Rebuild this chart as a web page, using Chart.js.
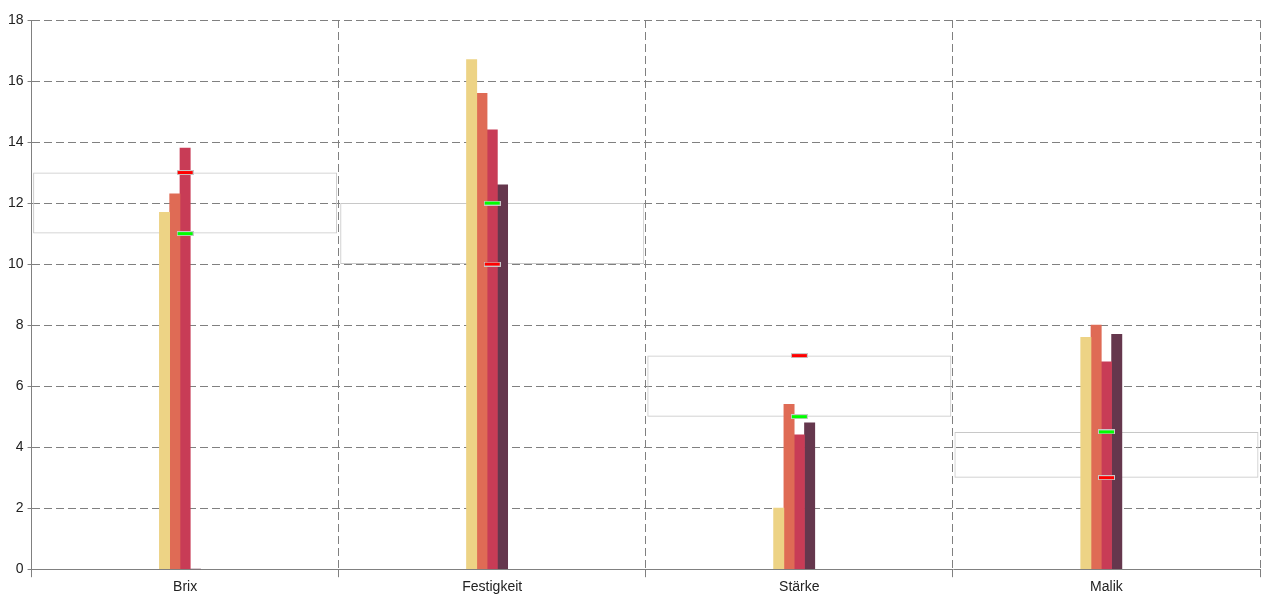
<!DOCTYPE html>
<html>
<head>
<meta charset="utf-8">
<title>Messwerte</title>
<script src="https://cdn.jsdelivr.net/npm/chart.js@4.4.0/dist/chart.umd.min.js"></script>
<style>
    html, body { margin: 0; padding: 0; background: #fff; }
</style>
</head>
<body>
<canvas id="chart" width="1280" height="600"></canvas>
<script>
// categories and measured values
const categories = ['Brix', 'Festigkeit', 'Stärke', 'Malik'];
const serie1 = [11.7, 16.7, 2.0, 7.6];
const serie2 = [12.3, 15.6, 5.4, 8.0];
const serie3 = [13.8, 14.4, 4.4, 6.8];
const serie4 = [0, 12.6, 4.8, 7.7];
const leer = [null, null, null, null];

// target markers (red / green)
const rotMarken = [13, 10, 7, 3];
const gruenMarken = [11, 12, 5, 4.5];

// y axis
const yMin = 0;
const yMax = 18;
const yStep = 2;

// box between the two markers of each category
const bereiche = categories.map((c, i) => [
    Math.min(rotMarken[i], gruenMarken[i]),
    Math.max(rotMarken[i], gruenMarken[i])
]);

function marke(fill) {
    const c = document.createElement('canvas');
    c.width = 17;
    c.height = 5;
    const ctx = c.getContext('2d');
    ctx.fillStyle = '#c8c8c8';
    ctx.fillRect(0, 0, 17, 5);
    ctx.fillStyle = fill;
    ctx.fillRect(1, 1, 15, 3);
    return c;
}

const balken = (label, data, color) => ({
    type: 'bar',
    label: label,
    data: data,
    backgroundColor: color,
    borderWidth: 0,
    barThickness: 10.3,
    order: 2
});

new Chart(document.getElementById('chart').getContext('2d'), {
    type: 'bar',
    data: {
        labels: categories,
        datasets: [
            {
                type: 'bar',
                label: 'Bereich',
                data: bereiche,
                grouped: false,
                categoryPercentage: 1,
                barPercentage: 0.99,
                backgroundColor: 'rgba(0,0,0,0)',
                borderColor: '#c8c8c8',
                borderWidth: 1,
                borderSkipped: false,
                order: 3
            },
            balken('Serie 1', serie1, '#edd385'),
            balken('Serie 2', serie2, '#df6b55'),
            balken('Serie 3', serie3, '#c83c56'),
            balken('Serie 4', serie4, '#65374d'),
            balken('', leer, 'rgba(0,0,0,0)'),
            {
                type: 'line',
                label: 'Max',
                data: rotMarken,
                showLine: false,
                pointStyle: marke('#ff0000'),
                order: 0
            },
            {
                type: 'line',
                label: 'Min',
                data: gruenMarken,
                showLine: false,
                pointStyle: marke('#00ff00'),
                order: 0
            }
        ]
    },
    options: {
        responsive: false,
        animation: false,
        layout: { padding: { left: 4, right: 20, top: 20, bottom: 2 } },
        plugins: {
            legend: { display: false },
            tooltip: { enabled: false }
        },
        scales: {
            x: {
                grid: {
                    color: '#808080',
                    offset: true,
                    tickLength: 8,
                    tickBorderDash: []
                },
                border: { color: '#808080', dash: [8, 4] },
                ticks: {
                    color: '#222',
                    font: { family: 'Liberation Sans', size: 14 },
                    padding: 2
                }
            },
            y: {
                min: yMin,
                max: yMax,
                grid: {
                    color: '#808080',
                    tickLength: 4,
                    tickBorderDash: []
                },
                border: { color: '#808080', dash: [8, 4] },
                ticks: {
                    stepSize: yStep,
                    color: '#222',
                    font: { family: 'Liberation Sans', size: 14 },
                    padding: 4
                }
            }
        }
    }
});
</script>
</body>
</html>
